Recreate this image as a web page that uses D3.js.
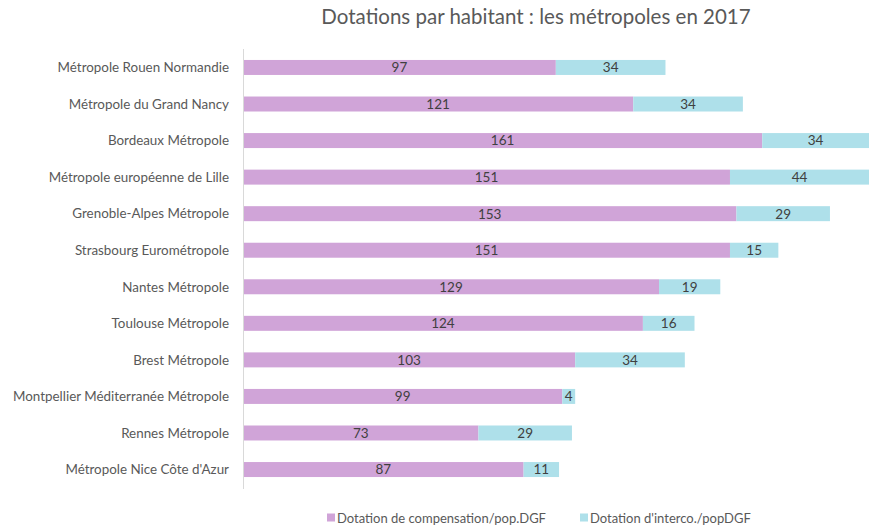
<!DOCTYPE html>
<html>
<head>
<meta charset="utf-8">
<script src="https://cdn.jsdelivr.net/npm/d3@7"></script>
<style>
  body { margin: 0; background: #fff; }
  svg { display: block; font-family: Lato, "Open Sans", sans-serif; }
</style>
</head>
<body>
<div id="chart"></div>
<script>
var categories = ["Métropole Rouen Normandie", "Métropole du Grand Nancy", "Bordeaux Métropole",
	"Métropole européenne de Lille", "Grenoble-Alpes Métropole", "Strasbourg Eurométropole",
	"Nantes Métropole", "Toulouse Métropole", "Brest Métropole",
	"Montpellier Méditerranée Métropole", "Rennes Métropole", "Métropole Nice Côte d'Azur"];
var compensation = [97, 121, 161, 151, 153, 151, 129, 124, 103, 99, 73, 87];
var interco = [34, 34, 34, 44, 29, 15, 19, 16, 34, 4, 29, 11];
var seriesNames = ["Dotation de compensation/pop.DGF", "Dotation d'interco./popDGF"];
var colors = ["#d0a4d8", "#aee0ea"];

var width = 869, height = 526;

var svg = d3.select("#chart").append("svg")
	.attr("width", width)
	.attr("height", height);

var x = d3.scaleLinear().domain([0, 200]).range([243, 243 + 200 * 3.225]);
var y = d3.scaleBand().domain(categories).range([49, 488]).paddingInner(0.59).paddingOuter(0.3);

var rows = categories.map(function(c, i){
	return { name: c, vals: [compensation[i], interco[i]] };
});
var stack = d3.stack().keys([0, 1]).value(function(d, k){ return d.vals[k]; });
var layers = stack(rows);

svg.append("text")
	.attr("x", 536).attr("y", 24)
	.attr("text-anchor", "middle")
	.style("font-size", "20.5px")
	.style("fill", "#595959")
	.text("Dotations par habitant : les métropoles en 2017");

var g = svg.selectAll("g.layer")
	.data(layers)
	.enter().append("g")
	.attr("class", "layer")
	.attr("fill", function(d, i){ return colors[i]; });

g.selectAll("rect")
	.data(function(d){ return d; })
	.enter().append("rect")
	.attr("x", function(d){ return x(d[0]); })
	.attr("y", function(d){ return y(d.data.name); })
	.attr("width", function(d){ return x(d[1]) - x(d[0]); })
	.attr("height", y.bandwidth());

g.selectAll("text")
	.data(function(d){ return d; })
	.enter().append("text")
	.attr("x", function(d){ return Math.min((x(d[0]) + x(d[1])) / 2, (x(d[0]) + width) / 2); })
	.attr("y", function(d){ return y(d.data.name) + y.bandwidth() / 2; })
	.attr("dy", ".36em")
	.attr("text-anchor", "middle")
	.style("font-size", "13.5px")
	.style("fill", "#404040")
	.text(function(d){ return d[1] - d[0]; });

// category axis
svg.append("line")
	.attr("x1", 243.5).attr("x2", 243.5)
	.attr("y1", 49).attr("y2", 489)
	.attr("stroke", "#d9d9d9");

svg.selectAll("text.cat")
	.data(categories)
	.enter().append("text")
	.attr("class", "cat")
	.attr("x", 229)
	.attr("y", function(d){ return y(d) + y.bandwidth() / 2; })
	.attr("dy", ".36em")
	.attr("text-anchor", "end")
	.style("font-size", "13.4px")
	.style("fill", "#595959")
	.text(function(d){ return d; });

// legend
var legX = [327, 580];
var leg = svg.selectAll("g.leg")
	.data(seriesNames)
	.enter().append("g")
	.attr("class", "leg")
	.attr("transform", function(d, i){ return "translate(" + legX[i] + ",518)"; });
leg.append("rect")
	.attr("x", 0).attr("y", -4.5)
	.attr("width", 8).attr("height", 8)
	.attr("fill", function(d, i){ return colors[i]; });
leg.append("text")
	.attr("x", 10).attr("dy", ".36em")
	.style("font-size", "13px")
	.style("fill", "#595959")
	.text(function(d){ return d; });
</script>
</body>
</html>
